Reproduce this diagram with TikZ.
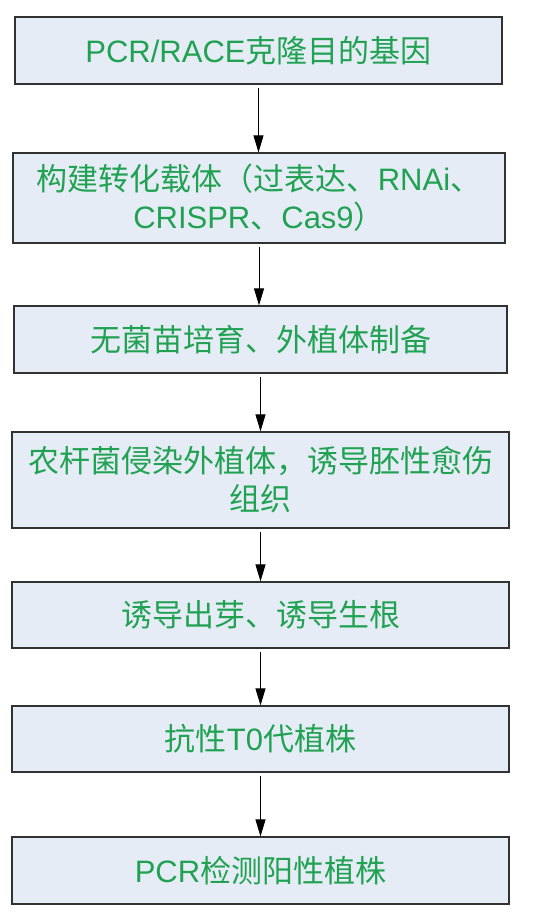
\documentclass[tikz,border=0pt]{standalone}
\usepackage{fontspec}
\setmainfont{Liberation Sans}
\newfontfamily\zhfont{Noto Sans CJK SC}
\newcommand{\zh}[1]{{\zhfont #1}}
\usetikzlibrary{arrows.meta}
\definecolor{boxfill}{RGB}{230,236,246}
\definecolor{boxline}{RGB}{50,50,50}
\definecolor{txtgreen}{RGB}{32,162,82}
\tikzset{
  stepbox/.style={draw=boxline, line width=1.2pt, fill=boxfill, text=txtgreen,
    align=center, inner sep=0pt, font=\fontsize{31}{38}\selectfont},
  flow/.style={draw=black, line width=0.9pt, -{Triangle[width=10pt,length=17pt]}, shorten <=3pt}
}
\begin{document}
\begin{tikzpicture}[x=1pt,y=-1pt]
\useasboundingbox (0,0) rectangle (545,917);
\node[stepbox, minimum width=487pt, minimum height=67pt] (b1) at (258.5,50.5) {PCR/RACE\zh{克隆目的基因}};
\node[stepbox, minimum width=492pt, minimum height=90pt] (b2) at (259,198) {\zh{构建转化载体（过表达、}RNAi\zh{、}\\CRISPR\zh{、}Cas9\zh{）}};
\node[stepbox, minimum width=493pt, minimum height=67pt] (b3) at (260.5,339.5) {\zh{无菌苗培育、外植体制备}};
\node[stepbox, minimum width=497pt, minimum height=96pt] (b4) at (260.5,480) {\zh{农杆菌侵染外植体，诱导胚性愈伤}\\\zh{组织}};
\node[stepbox, minimum width=497pt, minimum height=66pt] (b5) at (260.5,615) {\zh{诱导出芽、诱导生根}};
\node[stepbox, minimum width=497pt, minimum height=66pt] (b6) at (260.5,739) {\zh{抗性}T0\zh{代植株}};
\node[stepbox, minimum width=497pt, minimum height=67pt] (b7) at (260.5,870.5) {PCR\zh{检测阳性植株}};
\draw[flow] (b1.south) -- (b1.south |- b2.north);
\draw[flow] (b2.south) -- (b2.south |- b3.north);
\draw[flow] (b3.south) -- (b3.south |- b4.north);
\draw[flow] (b4.south) -- (b4.south |- b5.north);
\draw[flow] (b5.south) -- (b5.south |- b6.north);
\draw[flow] (b6.south) -- (b6.south |- b7.north);
\end{tikzpicture}
\end{document}
